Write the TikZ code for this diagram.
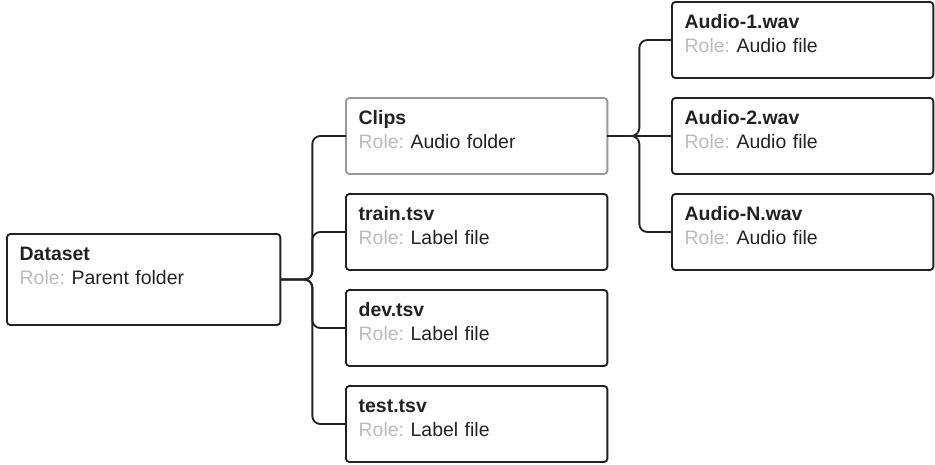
\documentclass[tikz,border=0pt]{standalone}
\usepackage{fontspec}
\setmainfont{Liberation Sans}
\usepackage{tikz}
\usetikzlibrary{positioning}

\definecolor{inkdark}{HTML}{222222}
\definecolor{rolegray}{HTML}{BBBBBB}
\definecolor{framegray}{HTML}{999999}

\begin{document}
\frenchspacing
\begin{tikzpicture}[
  x=0.75pt, y=-0.75pt,
  item/.style={
    draw=inkdark, line width=1.4pt, rounded corners=2.5pt,
    anchor=north west, align=left, text=inkdark, outer sep=0pt,
    font=\fontsize{14.6pt}{18pt}\selectfont,
    inner xsep=9.5pt, inner ysep=0pt,
    text width=177pt, text height=20pt, text depth=37pt
  },
  link/.style={draw=inkdark, line width=1.4pt, rounded corners=6pt},
]
\useasboundingbox (0,0) rectangle (935,464);

% root folder
\node[item, text width=186pt, text depth=48.25pt] (data) at (7,234)
  {\textbf{Dataset}\\ \textcolor{rolegray}{Role:} Parent folder};

% second level
\node[item, draw=framegray] (clips) at (346,98)
  {\textbf{Clips}\\ \textcolor{rolegray}{Role:} Audio folder};
\node[item, below=15pt of clips] (train)
  {\textbf{train.tsv}\\ \textcolor{rolegray}{Role:} Label file};
\node[item, below=15pt of train] (dev)
  {\textbf{dev.tsv}\\ \textcolor{rolegray}{Role:} Label file};
\node[item, below=15pt of dev] (test)
  {\textbf{test.tsv}\\ \textcolor{rolegray}{Role:} Label file};

% audio files
\node[item] (audio1) at (672,2)
  {\textbf{Audio-1.wav}\\ \textcolor{rolegray}{Role:} Audio file};
\node[item, below=15pt of audio1] (audio2)
  {\textbf{Audio-2.wav}\\ \textcolor{rolegray}{Role:} Audio file};
\node[item, below=15pt of audio2] (audioN)
  {\textbf{Audio-N.wav}\\ \textcolor{rolegray}{Role:} Audio file};

% connectors
\foreach \c in {clips,train,dev,test}
  \draw[link] (data.east) -- ++(24pt,0) |- (\c.west);
\foreach \c in {audio1,audioN}
  \draw[link] (clips.east) -- ++(24pt,0) |- (\c.west);
\draw[link] (clips.east) -- (audio2.west);
\end{tikzpicture}
\end{document}
